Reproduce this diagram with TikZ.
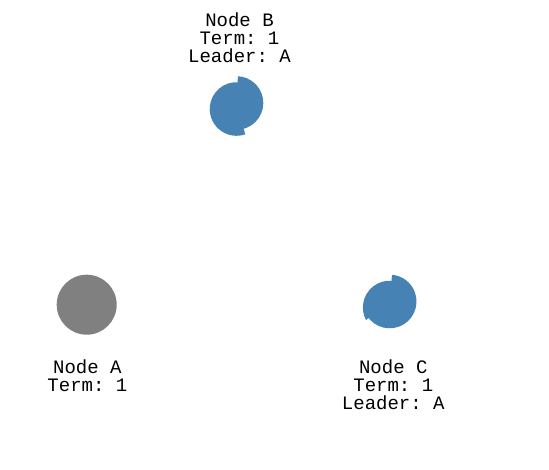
\documentclass[tikz,border=0pt]{standalone}
\usepackage{fontspec}
\setmonofont{Liberation Mono}
\definecolor{steel}{HTML}{4682B4}
\definecolor{idle}{HTML}{808080}
\def\rad{26.8}

\begin{document}
\begin{tikzpicture}[x=1pt,y=1pt]
  \tikzstyle{peer}=[circle,fill=idle,minimum size=60pt,inner sep=0pt]
  \tikzstyle{timer}=[fill=steel]
  \tikzstyle{info}=[font=\ttfamily\fontsize{19}{18}\selectfont,align=center,anchor=base,inner sep=0pt]

  \useasboundingbox (0,0) rectangle (549,470);

  \node[peer] (A) at (86.7,165.3) {};
  \coordinate (B) at (236.5,364);
  \coordinate (C) at (389.7,165.5);

  % followers: timeout pie, split in two halves
  \foreach \name / \top / \cut in {B/87/-71, C/85/-152} {
    \fill[timer] ([yshift=3pt]\name) -- ([yshift=-3pt]\name) -- ++(\top-2:\rad)
      arc[start angle=\top-2, end angle=360+\cut, radius=\rad] -- cycle;
    \fill[timer] ([yshift=3pt]\name) -- ++(\cut-8:\rad)
      arc[start angle=\cut-8, end angle=\top, radius=\rad] -- cycle;
  }

  \node[info] (A-info) at (87.4,78) {Node A\\Term: 1};
  \node[info] (B-info) at (239.5,407) {Node B\\Term: 1\\Leader: A};
  \node[info] (C-info) at (393.3,60) {Node C\\Term: 1\\Leader: A};
\end{tikzpicture}
\end{document}
